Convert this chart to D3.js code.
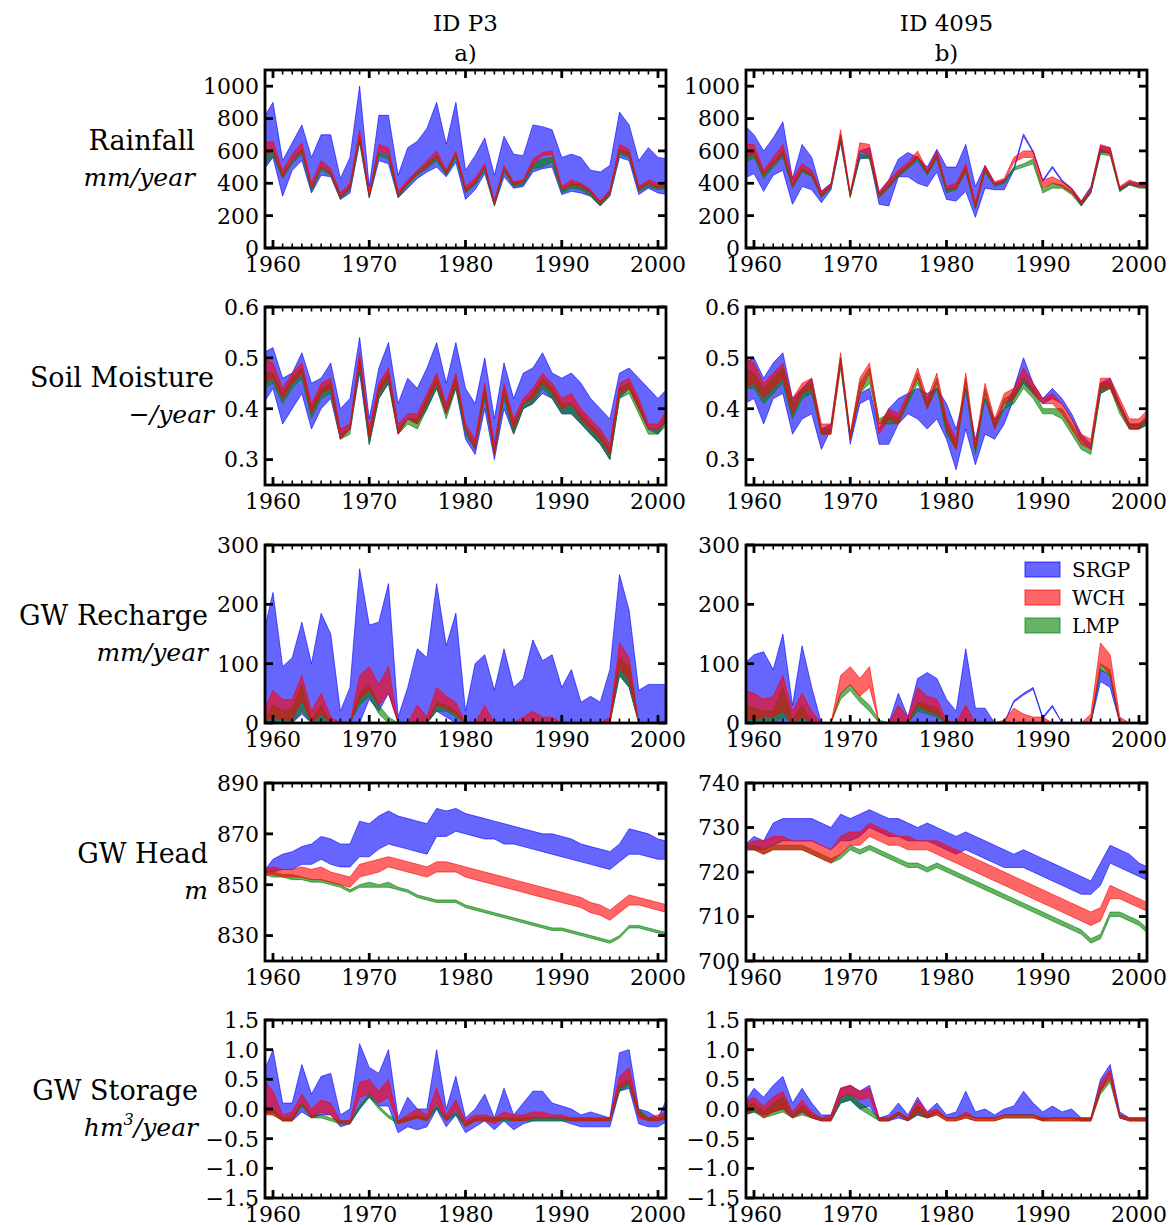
<!DOCTYPE html>
<html><head><meta charset="utf-8">
<script src="https://cdn.jsdelivr.net/npm/d3@7"></script>
<style>body{margin:0;background:#fff}</style>
</head><body><svg id="c" width="1172" height="1225"></svg>
<script>
// ---------- data ----------
const years = d3.range(1959, 2002); // 1959..2001
const columnTitles = ["ID P3", "ID 4095"];
const columnLetters = ["a)", "b)"];
const seriesNames = ["SRGP", "WCH", "LMP"];
const seriesColors = ["#0000ff", "#ff0000", "#008000"];
const rowNames = ["Rainfall", "Soil Moisture", "GW Recharge", "GW Head", "GW Storage"];
const rowUnits = ["mm/year", "\u2212/year", "mm/year", "m", "hm3/year"];
const xTicks = [1960, 1970, 1980, 1990, 2000];
const yTicksRain = [0, 200, 400, 600, 800, 1000];
const yTicksSoil = [0.3, 0.4, 0.5, 0.6];
const yTicksRech = [0, 100, 200, 300];
const yTicksHeadP3 = [830, 850, 870, 890];
const yTicksHead4095 = [700, 710, 720, 730, 740];
const yTicksStor = [-1.5, -1.0, -0.5, 0.0, 0.5, 1.0, 1.5];

// Rainfall
const rainP3_SRGP_lo = [480, 560,320,480,540,340,450,440,300,340,650, 310,540,520,310,370,430,470,500,440,530, 300,360,460,260,440,370,380,470,490,500, 330,350,340,320,260,320,560,540,330,370, 340,330];
const rainP3_SRGP_hi = [800, 900,540,650,760,560,700,700,430,560,1000, 380,820,820,450,620,660,740,900,640,900, 480,570,680,450,690,580,570,760,750,730, 560,580,560,480,470,510,840,760,540,620, 560,550];
const rainP3_WCH_lo = [560, 600,440,540,600,370,500,460,310,370,680, 320,600,580,320,400,460,500,560,460,580, 350,400,500,270,490,390,410,510,570,580, 360,390,380,340,270,340,600,570,360,400, 370,380];
const rainP3_WCH_hi = [650, 660,480,580,650,400,540,490,340,400,730, 340,640,620,350,420,480,540,600,480,600, 380,430,520,290,510,410,420,550,590,600, 380,420,400,360,290,360,640,610,380,420, 400,400];
const rainP3_LMP_lo = [500, 570,430,520,580,350,480,450,300,360,660, 310,570,550,310,390,450,490,540,450,560, 340,390,480,260,470,380,390,490,500,530, 340,370,360,320,260,330,580,560,350,380, 360,370];
const rainP3_LMP_hi = [600, 610,450,540,610,370,500,470,320,380,690, 320,590,570,330,410,470,520,570,470,580, 360,410,500,280,490,400,410,520,550,560, 360,400,390,350,280,350,610,590,370,400, 380,390];

const rain4095_SRGP_lo = [430, 460,350,450,480,270,380,360,280,360,650, 320,550,560,270,260,440,440,400,380,470, 300,290,350,190,370,360,360,480,690,590, 410,495,410,360,260,340,590,590,350,390, 380,370];
const rain4095_SRGP_hi = [760, 700,600,680,780,430,640,560,350,400,700, 340,600,620,340,420,550,590,560,500,610, 500,500,640,380,510,400,420,495,705,600, 420,505,420,370,290,380,630,620,370,410, 400,400];
const rain4095_WCH_lo = [560, 580,450,520,580,380,480,450,320,380,680, 320,600,570,320,380,450,500,560,460,560, 360,370,480,250,480,390,410,530,560,560, 370,400,380,340,270,350,600,580,360,400, 380,370];
const rain4095_WCH_hi = [640, 640,480,560,640,430,520,480,350,400,730, 340,650,640,350,420,480,530,600,480,600, 380,400,520,280,510,410,430,560,600,600, 420,440,410,370,290,370,640,620,380,420, 400,400];
const rain4095_LMP_lo = [520, 560,430,500,560,370,470,440,310,370,660, 310,560,550,310,370,440,490,540,450,550, 340,360,470,240,470,380,400,480,500,520, 340,370,370,330,260,340,580,570,350,390, 370,370];
const rain4095_LMP_hi = [600, 600,460,530,600,390,490,460,330,390,690, 320,580,570,330,390,460,510,570,470,570, 360,380,490,260,490,390,410,500,520,550, 360,400,390,350,280,350,610,590,370,400, 380,380];

// Soil moisture
const soilP3_SRGP_lo = [0.41, 0.44,0.37,0.40,0.43,0.36,0.40,0.42,0.34,0.36,0.47, 0.33,0.42,0.45,0.35,0.38,0.37,0.40,0.44,0.39,0.44, 0.34,0.31,0.40,0.30,0.40,0.35,0.40,0.41,0.43,0.42, 0.39,0.39,0.37,0.35,0.33,0.30,0.42,0.44,0.40,0.36, 0.35,0.38];
const soilP3_SRGP_hi = [0.51, 0.52,0.46,0.47,0.51,0.45,0.46,0.49,0.40,0.42,0.54, 0.38,0.48,0.53,0.41,0.46,0.44,0.48,0.53,0.45,0.53, 0.44,0.41,0.50,0.38,0.49,0.42,0.47,0.48,0.51,0.47, 0.46,0.47,0.45,0.42,0.40,0.38,0.47,0.48,0.46,0.44, 0.42,0.44];
const soilP3_WCH_lo = [0.45, 0.46,0.42,0.45,0.47,0.39,0.43,0.44,0.34,0.36,0.49, 0.34,0.43,0.46,0.35,0.38,0.37,0.41,0.45,0.39,0.45, 0.36,0.32,0.43,0.31,0.43,0.36,0.41,0.42,0.45,0.43, 0.40,0.41,0.38,0.36,0.34,0.31,0.43,0.44,0.40,0.36, 0.36,0.38];
const soilP3_WCH_hi = [0.50, 0.49,0.44,0.47,0.49,0.41,0.45,0.46,0.36,0.37,0.51, 0.36,0.45,0.48,0.37,0.39,0.39,0.43,0.47,0.41,0.47, 0.37,0.34,0.45,0.33,0.45,0.38,0.42,0.44,0.47,0.45, 0.42,0.43,0.40,0.38,0.36,0.33,0.45,0.46,0.42,0.37, 0.37,0.40];
const soilP3_LMP_lo = [0.44, 0.45,0.41,0.44,0.46,0.38,0.42,0.43,0.34,0.35,0.48, 0.33,0.42,0.45,0.35,0.37,0.36,0.40,0.44,0.38,0.44, 0.35,0.32,0.42,0.31,0.42,0.35,0.40,0.41,0.44,0.42, 0.39,0.39,0.37,0.35,0.33,0.30,0.42,0.43,0.39,0.35, 0.35,0.37];
const soilP3_LMP_hi = [0.47, 0.47,0.43,0.46,0.48,0.40,0.44,0.45,0.35,0.36,0.50, 0.35,0.44,0.47,0.36,0.38,0.38,0.42,0.46,0.40,0.46, 0.36,0.33,0.44,0.32,0.44,0.37,0.41,0.43,0.46,0.44, 0.41,0.41,0.39,0.37,0.35,0.32,0.44,0.45,0.41,0.36, 0.36,0.39];

const soil4095_SRGP_lo = [0.41, 0.42,0.37,0.42,0.43,0.35,0.38,0.39,0.32,0.36,0.49, 0.33,0.41,0.42,0.33,0.33,0.37,0.39,0.38,0.36,0.38, 0.34,0.28,0.36,0.29,0.35,0.34,0.37,0.42,0.45,0.43, 0.41,0.42,0.41,0.38,0.34,0.32,0.43,0.44,0.40,0.36, 0.36,0.37];
const soil4095_SRGP_hi = [0.49, 0.50,0.46,0.49,0.51,0.42,0.44,0.46,0.36,0.37,0.50, 0.35,0.43,0.44,0.36,0.40,0.42,0.43,0.44,0.43,0.44, 0.41,0.36,0.44,0.34,0.42,0.38,0.40,0.44,0.50,0.45, 0.42,0.44,0.42,0.39,0.35,0.33,0.45,0.46,0.41,0.37, 0.37,0.38];
const soil4095_WCH_lo = [0.44, 0.45,0.42,0.44,0.46,0.39,0.43,0.44,0.35,0.35,0.49, 0.34,0.43,0.47,0.35,0.38,0.37,0.42,0.46,0.40,0.45, 0.36,0.32,0.45,0.32,0.43,0.36,0.41,0.42,0.46,0.43, 0.41,0.41,0.39,0.36,0.33,0.32,0.44,0.44,0.40,0.36, 0.36,0.38];
const soil4095_WCH_hi = [0.50, 0.49,0.45,0.47,0.49,0.42,0.45,0.46,0.37,0.37,0.51, 0.35,0.46,0.49,0.37,0.40,0.39,0.43,0.48,0.42,0.47, 0.38,0.34,0.47,0.33,0.45,0.38,0.43,0.44,0.48,0.45, 0.42,0.43,0.41,0.38,0.35,0.34,0.46,0.46,0.42,0.38, 0.38,0.40];
const soil4095_LMP_lo = [0.44, 0.44,0.41,0.43,0.45,0.38,0.42,0.43,0.35,0.35,0.48, 0.34,0.43,0.45,0.37,0.37,0.37,0.41,0.45,0.40,0.44, 0.35,0.32,0.44,0.31,0.42,0.36,0.40,0.41,0.44,0.42, 0.39,0.39,0.38,0.35,0.32,0.31,0.43,0.44,0.39,0.36, 0.36,0.37];
const soil4095_LMP_hi = [0.48, 0.47,0.44,0.46,0.48,0.41,0.44,0.45,0.36,0.36,0.50, 0.35,0.45,0.48,0.38,0.39,0.38,0.42,0.47,0.41,0.46, 0.37,0.33,0.46,0.32,0.44,0.37,0.42,0.43,0.46,0.44, 0.40,0.40,0.40,0.37,0.34,0.32,0.45,0.45,0.41,0.37, 0.37,0.39];

// GW recharge
const rechP3_SRGP_lo = [0, 0,0,0,15,0,0,0,0,0,0, 40,20,50,0,0,0,0,20,10,0, 0,0,0,0,0,0,0,0,0,0, 0,0,0,0,0,0,80,60,0,0, 0,0];
const rechP3_SRGP_hi = [150, 220,95,110,170,100,185,150,20,60,260, 165,170,235,10,60,125,110,235,130,185, 20,100,115,55,125,60,75,140,105,115, 60,90,35,45,35,90,250,190,55,65, 65,65];
const rechP3_WCH_lo = [0, 10,5,5,40,0,15,0,0,0,40, 55,30,50,0,0,0,0,30,25,15, 0,0,0,0,0,0,0,0,0,0, 0,0,0,0,0,0,95,70,0,0, 0,0];
const rechP3_WCH_hi = [20, 55,40,40,80,20,50,10,0,0,80, 95,65,95,0,0,30,10,60,45,35, 0,0,30,0,0,0,10,20,10,10, 0,0,0,0,0,10,135,110,0,0, 0,0];
const rechP3_LMP_lo = [0, 0,0,0,20,0,0,0,0,0,30, 45,15,0,0,0,0,0,20,20,10, 0,0,0,0,0,0,0,0,0,0, 0,0,0,0,0,0,80,60,0,0, 0,0];
const rechP3_LMP_hi = [0, 30,20,25,65,5,30,0,0,0,50, 65,30,10,0,0,0,0,35,30,20, 0,0,0,0,0,0,0,0,0,0, 0,0,0,0,0,0,110,95,0,0, 0,0];

const rech4095_SRGP_lo = [0, 0,0,0,0,0,0,0,0,0,0, 0,0,0,0,0,0,0,0,0,0, 0,0,0,0,0,0,0,35,47,57, 7,27,0,0,0,0,70,60,0,0, 0,0];
const rech4095_SRGP_hi = [100, 115,120,90,150,30,130,60,0,0,0, 0,0,0,0,0,50,10,75,85,75, 40,20,125,25,25,0,0,38,50,60, 10,30,0,0,0,0,90,80,0,0, 0,0];
const rech4095_WCH_lo = [10, 5,10,10,20,0,10,0,0,0,50, 65,45,60,0,0,0,0,30,20,15, 0,0,0,0,0,0,0,5,0,0, 0,0,0,0,0,0,100,80,0,0, 0,0];
const rech4095_WCH_hi = [55, 50,40,45,80,20,50,20,0,0,80, 95,75,95,0,0,30,10,60,45,40, 5,0,30,0,0,0,5,25,15,10, 10,0,0,0,0,15,135,115,10,0, 0,0];
const rech4095_LMP_lo = [0, 0,0,0,10,0,0,0,0,0,40, 55,35,20,0,0,0,0,20,15,10, 0,0,0,0,0,0,0,0,0,0, 0,0,0,0,0,0,90,80,0,0, 0,0];
const rech4095_LMP_hi = [30, 25,20,20,60,5,30,0,0,0,50, 65,45,30,5,0,0,0,35,30,25, 0,0,0,0,0,0,0,0,0,0, 0,0,0,0,0,0,100,90,0,0, 0,0];

// GW head
const headP3_SRGP_lo = [855, 855,856,856,858,858,860,858,857,857,861, 861,864,866,865,864,863,862,869,869,871, 870,869,868,868,866,866,865,864,863,862, 861,860,859,858,857,856,859,862,862,861, 860,860];
const headP3_SRGP_hi = [855, 860,862,863,865,866,869,868,866,866,875, 874,877,879,877,876,875,874,880,879,880, 878,877,876,875,874,873,872,871,870,870, 869,868,866,865,864,863,866,872,871,870, 868,867];
const headP3_WCH_lo = [854, 854,853,853,853,852,852,851,850,849,853, 854,855,857,856,855,854,853,855,855,855, 853,852,851,850,849,848,847,846,845,844, 843,842,841,839,838,836,839,842,842,841, 840,839];
const headP3_WCH_hi = [856, 857,856,856,857,856,857,855,854,853,858, 859,860,861,860,859,858,857,859,859,858, 857,856,855,854,853,852,851,850,849,848, 847,846,845,843,842,840,843,846,845,844, 843,842];
const headP3_LMP_lo = [854, 853,853,852,852,851,851,850,849,847,849, 849,849,849,848,847,845,844,843,843,843, 841,840,839,838,837,836,835,834,833,832, 832,831,830,829,828,827,829,833,833,832, 831,830];
const headP3_LMP_hi = [855, 855,854,854,853,852,852,851,850,848,850, 851,850,851,849,848,846,845,844,844,844, 842,841,840,839,838,837,836,835,834,833, 833,832,831,830,829,828,830,834,834,833, 832,831];

const head4095_SRGP_lo = [725, 725,725,726,727,727,727,727,726,725,727, 727,728,730,729,728,728,727,727,727,726, 725,724,725,724,723,722,721,721,721,720, 719,718,717,716,715,715,717,722,721,720, 719,718];
const head4095_SRGP_hi = [726, 728,727,731,732,732,732,732,731,730,733, 732,733,734,733,732,732,731,730,731,730, 729,728,729,728,727,726,725,724,725,724, 723,722,721,720,719,718,722,726,725,724, 722,721];
const head4095_WCH_lo = [725, 725,724,725,725,725,725,724,723,722,724, 726,726,728,727,726,726,725,725,725,724, 723,722,721,720,719,718,717,716,715,714, 713,712,711,710,709,708,709,714,714,713, 712,711];
const head4095_WCH_hi = [726, 727,727,728,728,727,727,727,726,725,728, 729,729,731,730,729,728,728,727,727,727, 726,725,724,723,722,721,720,719,718,717, 716,715,714,713,712,711,712,717,716,715, 714,713];
const head4095_LMP_lo = [725, 725,724,725,725,725,725,724,723,722,723, 725,724,725,724,723,722,721,721,720,721, 720,719,718,717,716,715,714,713,712,711, 710,709,708,707,706,704,705,710,710,709, 708,706];
const head4095_LMP_hi = [726, 726,725,726,726,726,726,725,724,723,724, 726,725,726,725,724,723,722,722,721,722, 721,720,719,718,717,716,715,714,713,712, 711,710,709,708,707,705,706,711,711,710, 709,707];

// GW storage
const storP3_SRGP_lo = [-0.1, -0.05,-0.2,-0.2,-0.05,-0.15,-0.1,-0.1,-0.3,-0.25,0.0, 0.2,0.05,0.05,-0.4,-0.3,-0.35,-0.3,0.0,-0.3,-0.1, -0.4,-0.3,-0.2,-0.35,-0.2,-0.35,-0.25,-0.2,-0.2,-0.2, -0.2,-0.25,-0.3,-0.3,-0.3,-0.3,0.3,0.35,-0.25,-0.3, -0.3,-0.2];
const storP3_SRGP_hi = [0.6, 1.0,0.1,0.1,0.75,0.25,0.55,0.6,-0.1,0.0,1.1, 0.7,0.6,1.0,-0.15,0.2,0.0,0.0,1.0,0.0,0.55, -0.15,0.0,0.25,-0.15,0.35,-0.1,0.1,0.3,0.3,0.1, 0.05,0.0,-0.1,-0.05,-0.1,-0.15,0.95,1.0,0.0,-0.05, -0.15,0.2];
const storP3_WCH_lo = [-0.1, -0.1,-0.2,-0.2,0.1,-0.15,-0.05,-0.1,-0.25,-0.25,0.2, 0.25,0.1,0.2,-0.25,-0.2,-0.15,-0.2,0.1,-0.2,0.0, -0.3,-0.2,-0.2,-0.25,-0.15,-0.2,-0.2,-0.15,-0.15,-0.15, -0.15,-0.2,-0.2,-0.2,-0.2,-0.2,0.35,0.45,-0.15,-0.2, -0.2,-0.15];
const storP3_WCH_hi = [0.5, 0.3,-0.1,-0.05,0.25,0.0,0.15,0.1,-0.2,-0.2,0.45, 0.5,0.3,0.5,-0.2,-0.1,0.0,-0.1,0.35,-0.1,0.15, -0.2,-0.1,-0.1,-0.15,-0.05,-0.1,-0.1,-0.05,-0.05,-0.1, -0.1,-0.15,-0.15,-0.15,-0.15,-0.15,0.55,0.7,-0.05,-0.15, -0.1,-0.05];
const storP3_LMP_lo = [-0.05, -0.1,-0.2,-0.2,0.05,-0.15,-0.15,-0.2,-0.25,-0.25,0.0, 0.2,0.0,-0.15,-0.25,-0.2,-0.15,-0.2,0.0,-0.2,-0.1, -0.3,-0.2,-0.2,-0.2,-0.2,-0.2,-0.2,-0.2,-0.2,-0.2, -0.2,-0.2,-0.2,-0.2,-0.2,-0.2,0.3,0.4,-0.1,-0.2, -0.2,-0.15];
const storP3_LMP_hi = [0.05, 0.0,-0.15,-0.15,0.1,-0.1,-0.1,-0.15,-0.2,-0.2,0.05, 0.25,0.05,-0.1,-0.2,-0.15,-0.1,-0.15,0.05,-0.15,-0.05, -0.25,-0.15,-0.15,-0.15,-0.15,-0.15,-0.15,-0.15,-0.15,-0.15, -0.15,-0.15,-0.15,-0.15,-0.15,-0.15,0.4,0.5,0.0,-0.15, -0.15,-0.1];

const stor4095_SRGP_lo = [-0.1, -0.05,-0.1,-0.05,0.0,-0.15,-0.05,-0.15,-0.2,-0.2,0.1, 0.15,0.0,0.05,-0.2,-0.2,-0.15,-0.2,-0.1,-0.15,-0.05, -0.15,-0.15,-0.1,-0.15,-0.15,-0.15,-0.1,-0.1,-0.1,-0.1, -0.2,-0.15,-0.15,-0.15,-0.2,-0.2,0.3,0.6,-0.15,-0.2, -0.2,-0.2];
const stor4095_SRGP_hi = [0.1, 0.35,0.2,0.4,0.55,0.1,0.35,0.1,-0.1,-0.1,0.35, 0.4,0.3,0.4,-0.15,-0.1,0.1,-0.1,0.2,-0.05,0.1, -0.1,-0.05,0.3,-0.05,0.0,-0.1,0.0,0.05,0.3,0.1, -0.05,0.05,-0.05,0.0,-0.15,-0.15,0.5,0.75,-0.05,-0.15, -0.15,-0.15];
const stor4095_WCH_lo = [-0.1, 0.0,-0.15,-0.05,0.0,-0.15,-0.05,-0.15,-0.2,-0.2,0.2, 0.25,0.15,0.2,-0.2,-0.2,-0.1,-0.2,-0.05,-0.15,-0.1, -0.2,-0.2,-0.15,-0.2,-0.2,-0.2,-0.15,-0.15,-0.15,-0.15, -0.2,-0.2,-0.2,-0.2,-0.2,-0.2,0.3,0.5,-0.15,-0.2, -0.2,-0.2];
const stor4095_WCH_hi = [0.1, 0.2,0.05,0.2,0.3,-0.05,0.15,-0.05,-0.15,-0.1,0.35, 0.4,0.3,0.35,-0.15,-0.15,-0.05,-0.15,0.15,-0.05,0.0, -0.15,-0.15,-0.05,-0.15,-0.15,-0.15,-0.1,-0.1,-0.1,-0.1, -0.15,-0.15,-0.15,-0.15,-0.15,-0.15,0.45,0.65,-0.1,-0.15, -0.15,-0.15];
const stor4095_LMP_lo = [-0.1, -0.05,-0.15,-0.1,-0.05,-0.15,-0.1,-0.15,-0.2,-0.2,0.1, 0.15,0.0,-0.1,-0.2,-0.2,-0.1,-0.2,-0.1,-0.15,-0.1, -0.2,-0.2,-0.15,-0.2,-0.2,-0.2,-0.15,-0.15,-0.15,-0.15, -0.2,-0.2,-0.2,-0.2,-0.2,-0.2,0.25,0.45,-0.15,-0.2, -0.2,-0.2];
const stor4095_LMP_hi = [0.05, 0.1,-0.05,0.1,0.2,-0.1,0.05,-0.1,-0.15,-0.15,0.2, 0.25,0.1,0.0,-0.15,-0.15,-0.05,-0.15,0.05,-0.1,-0.05, -0.15,-0.15,-0.1,-0.15,-0.15,-0.15,-0.1,-0.1,-0.1,-0.1, -0.15,-0.15,-0.15,-0.15,-0.15,-0.15,0.35,0.55,-0.1,-0.15, -0.15,-0.15];

// ---------- panel configuration ----------
const panels = [
  [{dom:[0,1100], ticks:yTicksRain, fmt:d3.format("d"),
    s:[[rainP3_SRGP_lo,rainP3_SRGP_hi],[rainP3_WCH_lo,rainP3_WCH_hi],[rainP3_LMP_lo,rainP3_LMP_hi]]},
   {dom:[0,1100], ticks:yTicksRain, fmt:d3.format("d"),
    s:[[rain4095_SRGP_lo,rain4095_SRGP_hi],[rain4095_WCH_lo,rain4095_WCH_hi],[rain4095_LMP_lo,rain4095_LMP_hi]]}],
  [{dom:[0.25,0.6], ticks:yTicksSoil, fmt:d3.format(".1f"),
    s:[[soilP3_SRGP_lo,soilP3_SRGP_hi],[soilP3_WCH_lo,soilP3_WCH_hi],[soilP3_LMP_lo,soilP3_LMP_hi]]},
   {dom:[0.25,0.6], ticks:yTicksSoil, fmt:d3.format(".1f"),
    s:[[soil4095_SRGP_lo,soil4095_SRGP_hi],[soil4095_WCH_lo,soil4095_WCH_hi],[soil4095_LMP_lo,soil4095_LMP_hi]]}],
  [{dom:[0,300], ticks:yTicksRech, fmt:d3.format("d"),
    s:[[rechP3_SRGP_lo,rechP3_SRGP_hi],[rechP3_WCH_lo,rechP3_WCH_hi],[rechP3_LMP_lo,rechP3_LMP_hi]]},
   {dom:[0,300], ticks:yTicksRech, fmt:d3.format("d"), legend:true,
    s:[[rech4095_SRGP_lo,rech4095_SRGP_hi],[rech4095_WCH_lo,rech4095_WCH_hi],[rech4095_LMP_lo,rech4095_LMP_hi]]}],
  [{dom:[820,890], ticks:yTicksHeadP3, fmt:d3.format("d"),
    s:[[headP3_SRGP_lo,headP3_SRGP_hi],[headP3_WCH_lo,headP3_WCH_hi],[headP3_LMP_lo,headP3_LMP_hi]]},
   {dom:[700,740], ticks:yTicksHead4095, fmt:d3.format("d"),
    s:[[head4095_SRGP_lo,head4095_SRGP_hi],[head4095_WCH_lo,head4095_WCH_hi],[head4095_LMP_lo,head4095_LMP_hi]]}],
  [{dom:[-1.5,1.5], ticks:yTicksStor, fmt:d3.format(".1f"),
    s:[[storP3_SRGP_lo,storP3_SRGP_hi],[storP3_WCH_lo,storP3_WCH_hi],[storP3_LMP_lo,storP3_LMP_hi]]},
   {dom:[-1.5,1.5], ticks:yTicksStor, fmt:d3.format(".1f"),
    s:[[stor4095_SRGP_lo,stor4095_SRGP_hi],[stor4095_WCH_lo,stor4095_WCH_hi],[stor4095_LMP_lo,stor4095_LMP_hi]]}]
];

// ---------- layout ----------
const colX = [265, 746];
const rowY = [70, 307, 545, 783, 1020];
const W = 401, H = 178;
const xDomain = [1959.17, 2000.83];
const labelRight = [195, 214, 208, 208, 198];
const FONT = "DejaVu Serif, Liberation Serif, serif";
const drawOrder = [0, 2, 1];

const svg = d3.select("#c");

// column titles
columnTitles.forEach((t, c) => {
  const cx = colX[c] + W / 2;
  svg.append("text").attr("x", cx).attr("y", 31).attr("text-anchor", "middle")
    .attr("font-family", FONT).attr("font-size", 23).text(t);
  svg.append("text").attr("x", cx).attr("y", 61).attr("text-anchor", "middle")
    .attr("font-family", FONT).attr("font-size", 23).text(columnLetters[c]);
});

// row labels
rowNames.forEach((name, r) => {
  const cy = rowY[r] + H / 2;
  svg.append("text").attr("x", labelRight[r]).attr("y", cy - 9).attr("text-anchor", "end")
    .attr("font-family", FONT).attr("font-size", 27).text(name);
  const u = svg.append("text").attr("x", labelRight[r]).attr("y", cy + 27).attr("text-anchor", "end")
    .attr("font-family", FONT).attr("font-style", "italic").attr("font-size", 25);
  if (rowUnits[r] === "hm3/year") {
    u.append("tspan").text("hm");
    u.append("tspan").attr("font-size", 16).attr("dy", -11).text("3");
    u.append("tspan").attr("dy", 11).text("/year");
  } else {
    u.text(rowUnits[r]);
  }
});

panels.forEach((row, r) => {
  row.forEach((cfg, c) => {
    const g = svg.append("g").attr("transform", `translate(${colX[c]},${rowY[r]})`);
    const x = d3.scaleLinear().domain(xDomain).range([0, W]);
    const y = d3.scaleLinear().domain(cfg.dom).range([H, 0]);
    const clipId = `clip-${r}-${c}`;
    g.append("clipPath").attr("id", clipId).append("rect").attr("width", W).attr("height", H);
    const plot = g.append("g").attr("clip-path", `url(#${clipId})`);
    drawOrder.forEach(si => {
      const [lo, hi] = cfg.s[si];
      const area = d3.area()
        .x((d, i) => x(years[i]))
        .y0((d, i) => y(lo[i]))
        .y1((d, i) => y(hi[i]));
      plot.append("path").datum(years).attr("d", area)
        .attr("fill", seriesColors[si]).attr("fill-opacity", 0.6)
        .attr("stroke", seriesColors[si]).attr("stroke-opacity", 0.6)
        .attr("stroke-width", 1).attr("stroke-linejoin", "round");
    });

    // frame
    g.append("rect").attr("width", W).attr("height", H).attr("fill", "none")
      .attr("stroke", "#000").attr("stroke-width", 2.8);

    // x ticks (minor yearly, major every 10 years), inward top & bottom
    const yrTicks = d3.range(1960, 2001);
    yrTicks.forEach(yr => {
      const major = xTicks.includes(yr);
      const len = major ? 8 : 4.5;
      const sw = major ? 2.8 : 1.6;
      const px = x(yr);
      g.append("line").attr("x1", px).attr("x2", px).attr("y1", H).attr("y2", H - len)
        .attr("stroke", "#000").attr("stroke-width", sw);
      g.append("line").attr("x1", px).attr("x2", px).attr("y1", 0).attr("y2", len)
        .attr("stroke", "#000").attr("stroke-width", sw);
    });
    xTicks.forEach(yr => {
      g.append("text").attr("x", x(yr)).attr("y", H + 24).attr("text-anchor", "middle")
        .attr("font-family", FONT).attr("font-size", 22).text(yr);
    });

    // y ticks inward both sides + labels left
    cfg.ticks.forEach(v => {
      const py = y(v);
      g.append("line").attr("x1", 0).attr("x2", 8).attr("y1", py).attr("y2", py)
        .attr("stroke", "#000").attr("stroke-width", 2.8);
      g.append("line").attr("x1", W).attr("x2", W - 8).attr("y1", py).attr("y2", py)
        .attr("stroke", "#000").attr("stroke-width", 2.8);
      g.append("text").attr("x", -6).attr("y", py).attr("dy", "0.36em").attr("text-anchor", "end")
        .attr("font-family", FONT).attr("font-size", 22).text(cfg.fmt(v));
    });

    if (cfg.legend) {
      const lg = g.append("g").attr("transform", `translate(${1025 - colX[c]},${562 - rowY[r]})`);
      seriesNames.forEach((nm, i) => {
        lg.append("rect").attr("x", 0).attr("y", i * 28).attr("width", 35).attr("height", 15)
          .attr("fill", seriesColors[i]).attr("fill-opacity", 0.6)
          .attr("stroke", seriesColors[i]).attr("stroke-opacity", 0.6).attr("stroke-width", 1.2);
        lg.append("text").attr("x", 47).attr("y", i * 28 + 7.5).attr("dy", "0.36em")
          .attr("font-family", FONT).attr("font-size", 20).text(nm);
      });
    }
  });
});
</script>
</body></html>
